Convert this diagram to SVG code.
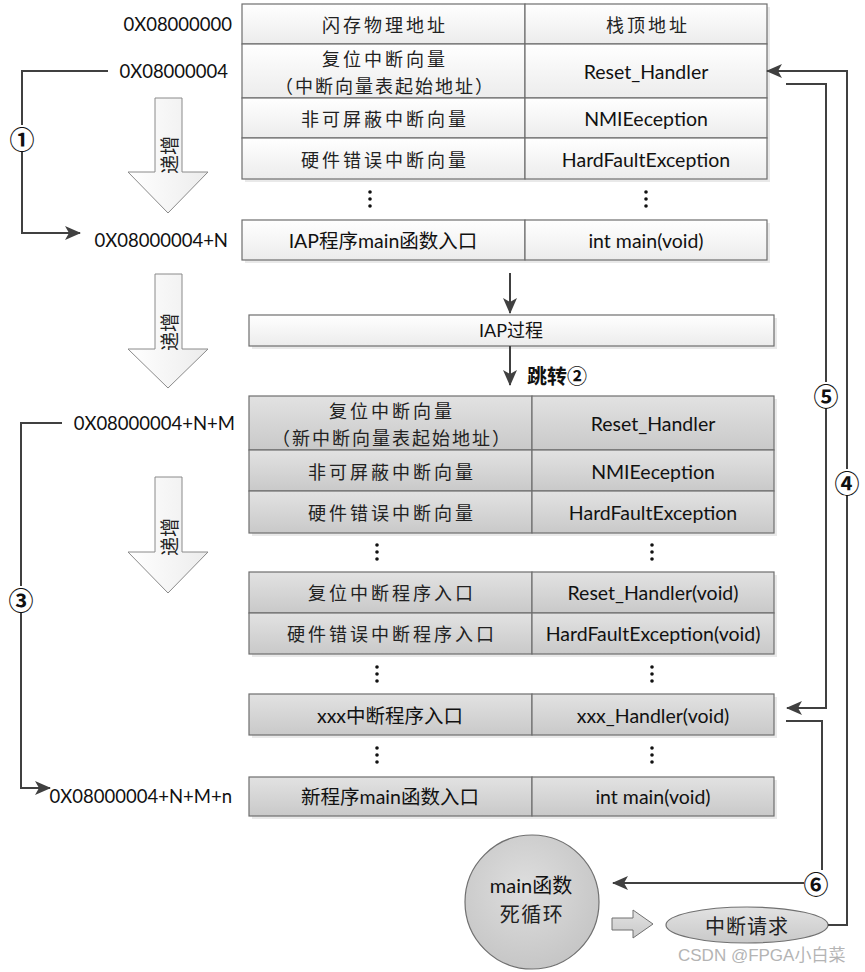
<svg xmlns="http://www.w3.org/2000/svg" width="865" height="972" viewBox="0 0 865 972">
<defs>
<style>
.cell-top{fill:url(#gTop);stroke:#6e6e6e;stroke-width:1.2}
.cell-low{fill:url(#gLow);stroke:#6e6e6e;stroke-width:1.2}
.shadow{fill:#e9e9e9}
.zh{font-family:"Noto Sans CJK SC","Noto Sans",sans-serif;font-size:18px;fill:#222;letter-spacing:3px}
.en{font-family:Lato,"Noto Sans CJK SC",sans-serif;font-size:19.5px;fill:#111}
.addr{font-family:Lato,"Noto Sans",sans-serif;font-size:18.5px;fill:#111}
.num{font-family:"Noto Sans CJK SC","DejaVu Sans",sans-serif;font-size:25px;font-weight:bold;fill:#111}
.conn{fill:none;stroke:#404040;stroke-width:2}
.big{fill:url(#gArrow);stroke:#8a8a8a;stroke-width:1}
.dot{fill:#111}
</style>
<linearGradient id="gTop" x1="0" y1="0" x2="0" y2="1"><stop offset="0" stop-color="#ffffff"/><stop offset="1" stop-color="#ececec"/></linearGradient>
<linearGradient id="gLow" x1="0" y1="0" x2="0" y2="1"><stop offset="0" stop-color="#e2e2e2"/><stop offset="1" stop-color="#c9c9c9"/></linearGradient>
<linearGradient id="gArrow" x1="0" y1="0" x2="1" y2="0"><stop offset="0" stop-color="#ffffff"/><stop offset="1" stop-color="#ececec"/></linearGradient>
<radialGradient id="gCircle" cx="0.45" cy="0.4" r="0.65"><stop offset="0" stop-color="#dedede"/><stop offset="1" stop-color="#c4c4c4"/></radialGradient>
<marker id="ah" markerWidth="16" markerHeight="14" refX="15" refY="7" orient="auto" markerUnits="userSpaceOnUse"><path d="M0,0 L16,7 L0,14 L4,7 Z" fill="#404040"/></marker>
</defs>

<!-- big "递增" arrows -->
<g id="inc1"><polygon class="big" points="155,98 182,98 182,172 208,172 168,213 128,172 155,172"/><text class="zh" transform="translate(168,155) rotate(-90)" text-anchor="middle" dominant-baseline="central" style="letter-spacing:0;font-size:19px">递增</text></g>
<g id="inc2"><polygon class="big" points="155,274 182,274 182,349 208,349 168,388 128,349 155,349"/><text class="zh" transform="translate(168,332) rotate(-90)" text-anchor="middle" dominant-baseline="central" style="letter-spacing:0;font-size:19px">递增</text></g>
<g id="inc3"><polygon class="big" points="155,477 182,477 182,552 208,552 168,593 128,552 155,552"/><text class="zh" transform="translate(168,537) rotate(-90)" text-anchor="middle" dominant-baseline="central" style="letter-spacing:0;font-size:19px">递增</text></g>

<!-- address labels -->
<g id="addresses">
<text class="addr" x="232" y="24" text-anchor="end" dominant-baseline="central">0X08000000</text>
<text class="addr" x="228" y="71" text-anchor="end" dominant-baseline="central">0X08000004</text>
<text class="addr" x="228" y="240" text-anchor="end" dominant-baseline="central">0X08000004+N</text>
<text class="addr" x="235" y="423" text-anchor="end" dominant-baseline="central">0X08000004+N+M</text>
<text class="addr" x="232" y="796" text-anchor="end" dominant-baseline="central">0X08000004+N+M+n</text>
</g>

<!-- top table (IAP) -->
<g id="table-iap">
<rect class="shadow" x="245" y="7" width="525" height="175"/>
<rect class="cell-top" x="242" y="4" width="283" height="40"/><rect class="cell-top" x="525" y="4" width="242" height="40"/>
<rect class="cell-top" x="242" y="44" width="283" height="54"/><rect class="cell-top" x="525" y="44" width="242" height="54"/>
<rect class="cell-top" x="242" y="98" width="283" height="40"/><rect class="cell-top" x="525" y="98" width="242" height="40"/>
<rect class="cell-top" x="242" y="138" width="283" height="41"/><rect class="cell-top" x="525" y="138" width="242" height="41"/>
<text class="zh" x="385" y="24" text-anchor="middle" dominant-baseline="central">闪存物理地址</text>
<text class="zh" x="648" y="24" text-anchor="middle" dominant-baseline="central">栈顶地址</text>
<text class="zh" x="385" y="58" text-anchor="middle" dominant-baseline="central">复位中断向量</text>
<text class="zh" x="385" y="85" text-anchor="middle" dominant-baseline="central" style="letter-spacing:2px">（中断向量表起始地址）</text>
<text class="en" x="646" y="71" text-anchor="middle" dominant-baseline="central">Reset_Handler</text>
<text class="zh" x="385" y="118" text-anchor="middle" dominant-baseline="central">非可屏蔽中断向量</text>
<text class="en" x="646" y="118" text-anchor="middle" dominant-baseline="central">NMIEeception</text>
<text class="zh" x="385" y="159" text-anchor="middle" dominant-baseline="central">硬件错误中断向量</text>
<text class="en" x="646" y="159" text-anchor="middle" dominant-baseline="central">HardFaultException</text>
</g>
<g id="dots1"><circle class="dot" cx="370" cy="192" r="1.8"/><circle class="dot" cx="370" cy="199" r="1.8"/><circle class="dot" cx="370" cy="206" r="1.8"/><circle class="dot" cx="646" cy="192" r="1.8"/><circle class="dot" cx="646" cy="199" r="1.8"/><circle class="dot" cx="646" cy="206" r="1.8"/></g>
<g id="row-iap-main">
<rect class="shadow" x="245" y="223" width="525" height="40"/>
<rect class="cell-top" x="242" y="220" width="283" height="40"/><rect class="cell-top" x="525" y="220" width="242" height="40"/>
<text class="en" x="383" y="240" text-anchor="middle" dominant-baseline="central">IAP程序main函数入口</text>
<text class="en" x="646" y="240" text-anchor="middle" dominant-baseline="central">int main(void)</text>
</g>

<!-- IAP process -->
<g id="iap-process">
<rect class="shadow" x="252" y="318" width="525" height="31"/>
<rect class="cell-top" x="249" y="315" width="525" height="31"/>
<text class="en" x="511" y="330" text-anchor="middle" dominant-baseline="central" style="font-size:18px">IAP过程</text>
</g>

<!-- lower table (app) -->
<g id="table-app">
<rect class="shadow" x="252" y="399" width="525" height="137"/>
<rect class="cell-low" x="249" y="396" width="283" height="54"/><rect class="cell-low" x="532" y="396" width="242" height="54"/>
<rect class="cell-low" x="249" y="450" width="283" height="41"/><rect class="cell-low" x="532" y="450" width="242" height="41"/>
<rect class="cell-low" x="249" y="491" width="283" height="42"/><rect class="cell-low" x="532" y="491" width="242" height="42"/>
<text class="zh" x="392" y="410" text-anchor="middle" dominant-baseline="central">复位中断向量</text>
<text class="zh" x="392" y="437" text-anchor="middle" dominant-baseline="central" style="letter-spacing:2px">（新中断向量表起始地址）</text>
<text class="en" x="653" y="423" text-anchor="middle" dominant-baseline="central">Reset_Handler</text>
<text class="zh" x="392" y="471" text-anchor="middle" dominant-baseline="central">非可屏蔽中断向量</text>
<text class="en" x="653" y="471" text-anchor="middle" dominant-baseline="central">NMIEeception</text>
<text class="zh" x="392" y="512" text-anchor="middle" dominant-baseline="central">硬件错误中断向量</text>
<text class="en" x="653" y="512" text-anchor="middle" dominant-baseline="central">HardFaultException</text>
</g>
<g id="dots2"><circle class="dot" cx="377" cy="545" r="1.8"/><circle class="dot" cx="377" cy="552" r="1.8"/><circle class="dot" cx="377" cy="559" r="1.8"/><circle class="dot" cx="652" cy="545" r="1.8"/><circle class="dot" cx="652" cy="552" r="1.8"/><circle class="dot" cx="652" cy="559" r="1.8"/></g>
<g id="table-handlers">
<rect class="shadow" x="252" y="575" width="525" height="82"/>
<rect class="cell-low" x="249" y="572" width="283" height="41"/><rect class="cell-low" x="532" y="572" width="242" height="41"/>
<rect class="cell-low" x="249" y="613" width="283" height="41"/><rect class="cell-low" x="532" y="613" width="242" height="41"/>
<text class="zh" x="392" y="592" text-anchor="middle" dominant-baseline="central">复位中断程序入口</text>
<text class="en" x="653" y="592" text-anchor="middle" dominant-baseline="central">Reset_Handler(void)</text>
<text class="zh" x="392" y="633" text-anchor="middle" dominant-baseline="central">硬件错误中断程序入口</text>
<text class="en" x="653" y="633" text-anchor="middle" dominant-baseline="central">HardFaultException(void)</text>
</g>
<g id="dots3"><circle class="dot" cx="377" cy="667" r="1.8"/><circle class="dot" cx="377" cy="674" r="1.8"/><circle class="dot" cx="377" cy="681" r="1.8"/><circle class="dot" cx="652" cy="667" r="1.8"/><circle class="dot" cx="652" cy="674" r="1.8"/><circle class="dot" cx="652" cy="681" r="1.8"/></g>
<g id="row-xxx">
<rect class="shadow" x="252" y="697" width="525" height="41"/>
<rect class="cell-low" x="249" y="694" width="283" height="41"/><rect class="cell-low" x="532" y="694" width="242" height="41"/>
<text class="en" x="390" y="715" text-anchor="middle" dominant-baseline="central">xxx中断程序入口</text>
<text class="en" x="653" y="715" text-anchor="middle" dominant-baseline="central">xxx_Handler(void)</text>
</g>
<g id="dots4"><circle class="dot" cx="377" cy="748" r="1.8"/><circle class="dot" cx="377" cy="755" r="1.8"/><circle class="dot" cx="377" cy="762" r="1.8"/><circle class="dot" cx="652" cy="748" r="1.8"/><circle class="dot" cx="652" cy="755" r="1.8"/><circle class="dot" cx="652" cy="762" r="1.8"/></g>
<g id="row-new-main">
<rect class="shadow" x="252" y="780" width="525" height="39"/>
<rect class="cell-low" x="249" y="777" width="283" height="39"/><rect class="cell-low" x="532" y="777" width="242" height="39"/>
<text class="en" x="390" y="796" text-anchor="middle" dominant-baseline="central">新程序main函数入口</text>
<text class="en" x="653" y="796" text-anchor="middle" dominant-baseline="central">int main(void)</text>
</g>

<!-- main loop + interrupt request -->
<g id="main-loop">
<circle cx="532" cy="902" r="67" fill="url(#gCircle)" stroke="#707070" stroke-width="1.2"/>
<text class="en" x="531" y="885" text-anchor="middle" dominant-baseline="central" style="font-size:20px">main函数</text>
<text class="zh" x="532" y="913" text-anchor="middle" dominant-baseline="central" style="font-size:20px;letter-spacing:1.5px">死循环</text>
</g>
<g id="flow-arrow"><polygon points="612,918 633,918 633,910 653,924 633,938 633,930 612,930" fill="url(#gLow)" stroke="#707070" stroke-width="1"/></g>
<g id="irq">
<ellipse cx="747" cy="925" rx="81" ry="18" fill="url(#gLow)" stroke="#707070" stroke-width="1.2"/>
<text class="zh" x="747" y="925" text-anchor="middle" dominant-baseline="central" style="font-size:20px;letter-spacing:1px">中断请求</text>
</g>

<!-- connectors -->
<g id="connectors">
<path class="conn" d="M108,71 H22 V233 H80" marker-end="url(#ah)"/>
<path class="conn" d="M62,423 H21 V788 H50" marker-end="url(#ah)"/>
<path class="conn" d="M510,273 V313" marker-end="url(#ah)"/>
<path class="conn" d="M510,346 V385" marker-end="url(#ah)"/>
<path class="conn" d="M828,925 H847 V71 H767" marker-end="url(#ah)"/>
<path class="conn" d="M786,84 H826 V708 H787" marker-end="url(#ah)"/>
<path class="conn" d="M786,721 H822 V870"/>
<path class="conn" d="M804,883 H613" marker-end="url(#ah)"/>
<rect x="9" y="125" width="26" height="26" fill="#fff"/>
<text class="num" x="22" y="138" text-anchor="middle" dominant-baseline="central">①</text>
<rect x="8" y="586" width="26" height="26" fill="#fff"/>
<text class="num" x="21" y="599" text-anchor="middle" dominant-baseline="central">③</text>
<rect x="834" y="469" width="26" height="26" fill="#fff"/>
<text class="num" x="847" y="482" text-anchor="middle" dominant-baseline="central">④</text>
<rect x="813" y="382" width="26" height="26" fill="#fff"/>
<text class="num" x="826" y="395" text-anchor="middle" dominant-baseline="central">⑤</text>
<text class="num" x="816" y="883" text-anchor="middle" dominant-baseline="central">⑥</text>
<text x="527" y="375" dominant-baseline="central" style="font-family:'Noto Sans CJK SC',sans-serif;font-size:20px;font-weight:bold;fill:#111">跳转②</text>
</g>

<text x="678" y="955" dominant-baseline="central" style="font-family:'Liberation Sans','Noto Sans CJK SC',sans-serif;font-size:17px;fill:#b4b4b4">CSDN @FPGA小白菜</text>
</svg>
